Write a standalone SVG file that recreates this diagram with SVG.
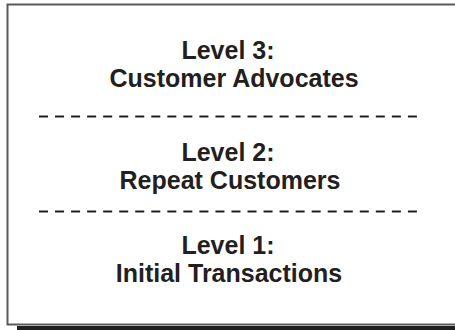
<svg xmlns="http://www.w3.org/2000/svg" width="455" height="330" viewBox="0 0 455 330">
<style>
.t{font-family:"Liberation Sans",Arial,sans-serif;font-weight:bold;font-size:25px;fill:#231f20;text-anchor:middle}
.d{stroke:#231f20;stroke-width:1.8;stroke-dasharray:9,7.04;fill:none}
</style>
<rect width="455" height="330" fill="#fff"/>
<rect x="17" y="326" width="440" height="6" fill="#231f20"/>
<rect x="7.5" y="4.5" width="460" height="320" fill="#fff" stroke="#5a5a5a" stroke-width="2"/>
<g id="connectors">
<line class="d" x1="39" y1="116.5" x2="417" y2="116.5"/>
<line class="d" x1="39" y1="211.5" x2="417" y2="211.5"/>
</g>
<g id="level3"><text class="t" x="228" y="59">Level 3:</text><text class="t" x="234" y="87">Customer Advocates</text></g>
<g id="level2"><text class="t" x="228" y="161">Level 2:</text><text class="t" x="230" y="189">Repeat Customers</text></g>
<g id="level1"><text class="t" x="228" y="254">Level 1:</text><text class="t" x="229" y="282">Initial Transactions</text></g>
</svg>
